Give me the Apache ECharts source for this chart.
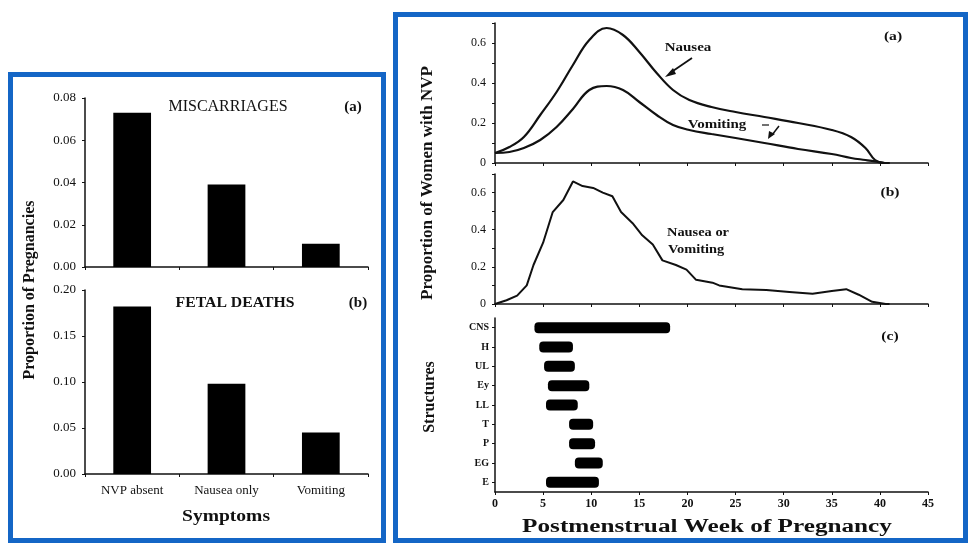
<!DOCTYPE html>
<html lang="en" style="height: 100%">
<head>
<meta charset="utf-8">
<title>NVP, pregnancy outcome and embryonic development</title>
</head>
<body style="height: 100%; margin: 0; background: #fff">
<div id="container" style="height: 100%"></div>

<script type="text/javascript" src="https://cdn.jsdelivr.net/npm/echarts/dist/echarts.min.js"></script>

<script type="text/javascript">

var dom = document.getElementById('container');
var myChart = echarts.init(dom);

// Left panels: outcome by symptom group
var symptoms = ['NVP absent', 'Nausea only', 'Vomiting'];
var miscarriages = [0.073, 0.039, 0.011];
var fetalDeaths = [0.182, 0.098, 0.045];

// Right (a): smoothed proportions by week
var weeksA = [0, 1.5, 3, 4.7, 6.4, 8.1, 9.8, 11.6, 13.3, 15, 16.8, 18.5, 20.2, 22.5, 25, 28, 31.5, 35, 37, 38.5, 39.5, 40.5, 41];
var nausea = [0.05, 0.08, 0.13, 0.24, 0.355, 0.49, 0.615, 0.675, 0.64, 0.555, 0.45, 0.365, 0.315, 0.28, 0.255, 0.23, 0.2, 0.165, 0.13, 0.075, 0.015, 0, 0];
var vomiting = [0.05, 0.055, 0.075, 0.115, 0.18, 0.27, 0.365, 0.385, 0.365, 0.305, 0.24, 0.19, 0.165, 0.145, 0.125, 0.1, 0.07, 0.045, 0.025, 0.015, 0.008, 0, 0];

// Right (b): nausea or vomiting
var weeksB = [0, 1.2, 2.3, 3.3, 4, 5, 6, 7.1, 8.1, 9.1, 10.2, 11.2, 12.2, 13.1, 14.3, 15.3, 16.4, 17.4, 18.8, 19.9, 20.9, 22.6, 23.3, 25.7, 28.2, 30.6, 33, 35, 36.5, 37.8, 39.2, 40.6, 41];
var nvp = [0, 0.02, 0.045, 0.1, 0.21, 0.33, 0.495, 0.56, 0.66, 0.635, 0.625, 0.6, 0.58, 0.495, 0.435, 0.37, 0.32, 0.235, 0.21, 0.185, 0.13, 0.115, 0.1, 0.08, 0.075, 0.065, 0.055, 0.07, 0.08, 0.05, 0.012, 0, 0];

// Right (c): developmental windows of structures (weeks)
var structures = ['CNS', 'H', 'UL', 'Ey', 'LL', 'T', 'P', 'EG', 'E'];
var structStart = [4.1, 4.6, 5.1, 5.5, 5.3, 7.7, 7.7, 8.3, 5.3];
var structEnd = [18.2, 8.1, 8.3, 9.8, 8.6, 10.2, 10.4, 11.2, 10.8];

var weekTicks = [0, 45, 5];

var serif = '"Liberation Serif", "DejaVu Serif", serif';
var ink = '#111';
var blue = '#1466c6';

function pairs(xs, ys) {
    return xs.map(function (x, i) { return [x, ys[i]]; });
}
var structSpan = structEnd.map(function (e, i) { return +(e - structStart[i]).toFixed(2); });

function propLabel(v) {
    var k = Math.round(v * 10);
    if (k % 2) return '';
    return k === 0 ? '0' : (k / 10).toFixed(1);
}

var axisLine = { show: true, lineStyle: { color: ink, width: 1.5 } };

function catAxis(grid, showLabels) {
    return {
        type: 'category', gridIndex: grid, data: symptoms,
        axisLine: axisLine,
        axisTick: { show: true, length: 3, lineStyle: { color: ink } },
        axisLabel: { show: showLabels, color: ink, fontFamily: serif, fontSize: 13, margin: 10 }
    };
}
function valAxisLeft(grid, max, interval) {
    return {
        type: 'value', gridIndex: grid, min: 0, max: max, interval: interval,
        axisLine: axisLine,
        axisTick: { show: true, length: 3, lineStyle: { color: ink } },
        splitLine: { show: false },
        axisLabel: { color: ink, fontFamily: serif, fontSize: 13, margin: 9,
            formatter: function (v) { return v.toFixed(2); } }
    };
}
function weekAxis(grid, showLabels) {
    return {
        type: 'value', gridIndex: grid, min: weekTicks[0], max: weekTicks[1], interval: weekTicks[2],
        axisLine: axisLine,
        axisTick: { show: true, length: 3, lineStyle: { color: ink } },
        splitLine: { show: false },
        axisLabel: { show: showLabels, color: ink, fontFamily: serif, fontSize: 12, fontWeight: 'bold', margin: 6 }
    };
}
function propAxis(grid) {
    return {
        type: 'value', gridIndex: grid, min: 0, max: 0.7, interval: 0.1,
        axisLine: axisLine,
        axisTick: { show: true, length: 3, lineStyle: { color: ink } },
        splitLine: { show: false },
        axisLabel: { color: ink, fontFamily: serif, fontSize: 12, margin: 9, formatter: propLabel }
    };
}

function label(text, x, y, opts) {
    opts = opts || {};
    return {
        type: 'text', x: x, y: y, rotation: opts.rotation || 0, scaleX: opts.scaleX || 1,
        style: {
            text: text, fill: ink,
            font: (opts.weight || 'bold') + ' ' + (opts.size || 13) + 'px ' + serif,
            textAlign: opts.align || 'center', textVerticalAlign: 'middle'
        }
    };
}
function stroke(points, w) {
    return { type: 'polyline', shape: { points: points }, style: { stroke: ink, lineWidth: w || 1.5, fill: null } };
}
function head(points) {
    return { type: 'polygon', shape: { points: points }, style: { fill: ink } };
}

var option = {
    animation: false,
    backgroundColor: '#fff',
    grid: [
        { left: 85, top: 98, width: 283, height: 169, outerBoundsMode: 'none' },
        { left: 85, top: 290, width: 283, height: 184, outerBoundsMode: 'none' },
        { left: 495, top: 23, width: 433, height: 140, outerBoundsMode: 'none' },
        { left: 495, top: 174, width: 433, height: 130, outerBoundsMode: 'none' },
        { left: 495, top: 318, width: 433, height: 174, outerBoundsMode: 'none' }
    ],
    xAxis: [
        catAxis(0, false),
        catAxis(1, true),
        weekAxis(2, false),
        weekAxis(3, false),
        weekAxis(4, true)
    ],
    yAxis: [
        valAxisLeft(0, 0.08, 0.02),
        valAxisLeft(1, 0.2, 0.05),
        propAxis(2),
        propAxis(3),
        {
            type: 'category', gridIndex: 4, data: structures, inverse: true,
            axisLine: axisLine,
            axisTick: { show: true, length: 3, alignWithLabel: true, lineStyle: { color: ink } },
            axisLabel: { color: ink, fontFamily: serif, fontSize: 10, fontWeight: 'bold', margin: 6 }
        }
    ],
    series: [
        { type: 'bar', xAxisIndex: 0, yAxisIndex: 0, data: miscarriages, barWidth: '40%', itemStyle: { color: '#000' } },
        { type: 'bar', xAxisIndex: 1, yAxisIndex: 1, data: fetalDeaths, barWidth: '40%', itemStyle: { color: '#000' } },
        { type: 'line', name: 'Nausea', xAxisIndex: 2, yAxisIndex: 2, data: pairs(weeksA, nausea),
          smooth: 0.4, showSymbol: false, lineStyle: { color: ink, width: 2.2 } },
        { type: 'line', name: 'Vomiting', xAxisIndex: 2, yAxisIndex: 2, data: pairs(weeksA, vomiting),
          smooth: 0.4, showSymbol: false, lineStyle: { color: ink, width: 2.2 } },
        { type: 'line', name: 'Nausea or Vomiting', xAxisIndex: 3, yAxisIndex: 3, data: pairs(weeksB, nvp),
          showSymbol: false, lineStyle: { color: ink, width: 2 } },
        { type: 'bar', xAxisIndex: 4, yAxisIndex: 4, stack: 'window', data: structStart,
          itemStyle: { color: 'transparent' }, silent: true, barWidth: 11 },
        { type: 'bar', xAxisIndex: 4, yAxisIndex: 4, stack: 'window', data: structSpan,
          itemStyle: { color: '#000', borderRadius: 4 }, barWidth: 11 }
    ],
    graphic: [
        { type: 'rect', shape: { x: 10.5, y: 74.5, width: 373, height: 466 }, style: { fill: null, stroke: blue, lineWidth: 5 } },
        { type: 'rect', shape: { x: 395.5, y: 14.5, width: 570, height: 526 }, style: { fill: null, stroke: blue, lineWidth: 5 } },

        label('MISCARRIAGES', 228, 107, { weight: 'normal', size: 16 }),
        label('(a)', 353, 107, { size: 15 }),
        label('FETAL DEATHS', 235, 303, { size: 15, scaleX: 1.05 }),
        label('(b)', 358, 303, { size: 15 }),
        label('Symptoms', 226, 517, { size: 17, scaleX: 1.15 }),
        label('Proportion of Pregnancies', 30, 290, { size: 16, rotation: Math.PI / 2 }),

        label('(a)', 893, 37, { size: 13, scaleX: 1.2 }),
        label('Nausea', 688, 48, { size: 12, scaleX: 1.25 }),
        stroke([[692, 58], [670, 73]], 1.8),
        head([[665, 77], [673, 68], [676, 74]]),
        label('Vomiting', 717, 125, { size: 12, scaleX: 1.25 }),
        stroke([[762, 125], [769, 125]], 1.2),
        stroke([[779, 126], [772, 135]], 1.5),
        head([[768, 139], [769, 131], [775, 134]]),
        label('(b)', 890, 193, { size: 13, scaleX: 1.2 }),
        label('Nausea or', 667, 233, { size: 12, align: 'left', scaleX: 1.2 }),
        label('Vomiting', 668, 250, { size: 12, align: 'left', scaleX: 1.2 }),
        label('(c)', 890, 337, { size: 13, scaleX: 1.2 }),
        label('Postmenstrual Week of Pregnancy', 707, 527, { size: 18, scaleX: 1.4 }),
        label('Proportion of Women with NVP', 428, 183, { size: 17, rotation: Math.PI / 2 }),
        label('Structures', 430, 397, { size: 16, rotation: Math.PI / 2 })
    ]
};

if (option && typeof option === 'object') {
    myChart.setOption(option);
}

window.addEventListener('resize', myChart.resize);
</script>
</body>
</html>
